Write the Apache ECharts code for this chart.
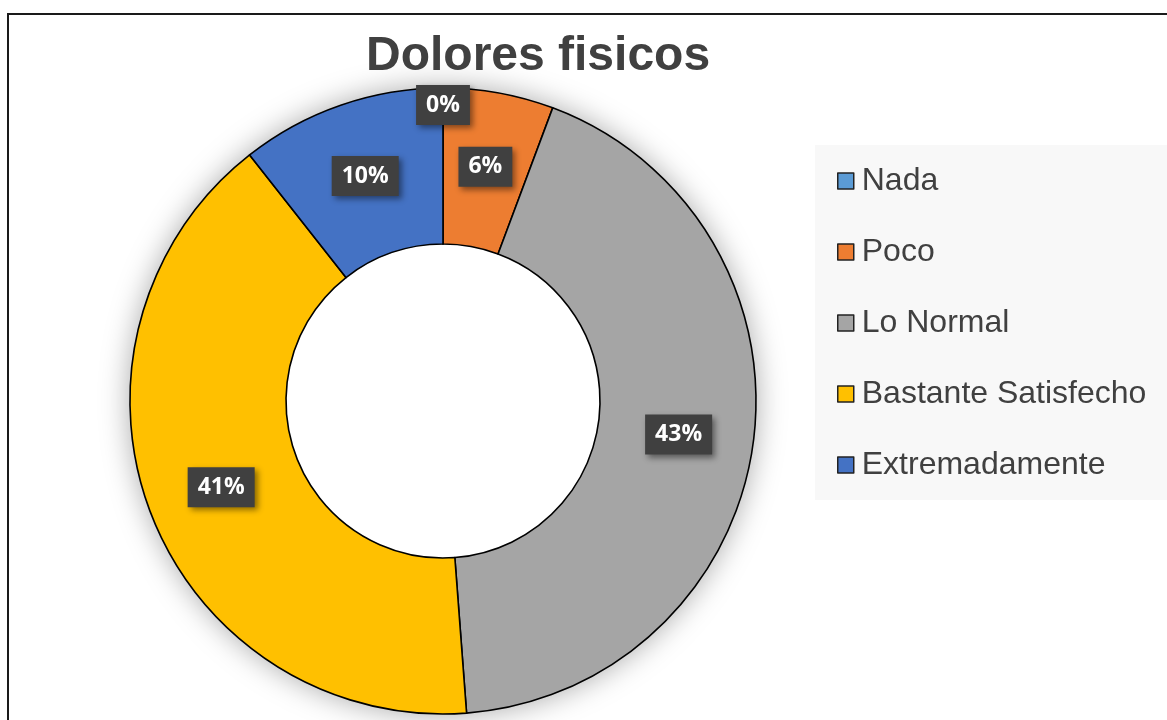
<!DOCTYPE html>
<html>
<head>
<meta charset="utf-8">
<script src="https://cdn.jsdelivr.net/npm/echarts@6/dist/echarts.min.js"></script>
<style>
html,body{margin:0;padding:0;background:#fff;}
#chart{width:1167px;height:720px;}
</style>
</head>
<body>
<div id="chart"></div>
<script>
// categories, share of answers and the printed labels
var categorias = ['Nada', 'Poco', 'Lo Normal', 'Bastante Satisfecho', 'Extremadamente'];
var valores = [0, 5.7, 43.1, 40.6, 10.6];
var etiquetas = ['0%', '6%', '43%', '41%', '10%'];
var colores = ['#5B9BD5', '#ED7D31', '#A5A5A5', '#FFC000', '#4472C4'];

var datos = [];
for (var i in categorias) {
	datos.push({
		name: categorias[i],
		value: valores[i],
		itemStyle: { color: colores[i] }
	});
}

var chart = echarts.init(document.getElementById('chart'));
var option = {
	animation: false,
	title: {
		text: 'Dolores fisicos',
		left: 366,
		top: 33,
		padding: 0,
		textStyle: {
			fontFamily: 'Liberation Sans',
			fontSize: 48,
			fontWeight: 'bold',
			color: '#404040'
		}
	},
	legend: {
		orient: 'vertical',
		left: 815,
		top: 145,
		padding: [18, 21, 17, 22],
		backgroundColor: '#f8f8f8',
		itemWidth: 16,
		itemHeight: 16,
		itemGap: 35,
		icon: 'rect',
		data: categorias,
		itemStyle: { borderColor: '#222', borderWidth: 1.5 },
		textStyle: {
			fontFamily: 'Liberation Sans',
			fontSize: 32,
			lineHeight: 36,
			color: '#404040',
			padding: [0, 0, 0, 3]
		}
	},
	graphic: [{
		type: 'rect',
		shape: { x: 8, y: 14, width: 1200, height: 800 },
		style: { fill: 'none', stroke: '#1a1a1a', lineWidth: 2 },
		silent: true,
		z: 100
	}],
	series: [{
		// white disc only to cast the soft shadow around the ring
		name: 'fondo',
		type: 'pie',
		center: [443, 401],
		radius: [0, 313],
		silent: true,
		z: 1,
		label: { show: false },
		labelLine: { show: false },
		itemStyle: {
			color: '#fff',
			shadowBlur: 30,
			shadowColor: 'rgba(0,0,0,0.35)'
		},
		data: [{ name: 'fondo', value: 1 }]
	}, {
		name: 'Dolores fisicos',
		type: 'pie',
		center: [443, 401],
		radius: [157, 313],
		startAngle: 90,
		clockwise: true,
		z: 2,
		avoidLabelOverlap: false,
		itemStyle: { borderColor: '#000', borderWidth: 1.6 },
		label: {
			show: true,
			position: 'inside',
			formatter: function(p) {
				return etiquetas[p.dataIndex];
			},
			fontFamily: 'Open Sans',
			fontWeight: 'bold',
			fontSize: 23,
			color: '#fff',
			backgroundColor: '#404040',
			padding: [9, 10, 8, 10],
			shadowBlur: 6,
			shadowOffsetX: 3,
			shadowOffsetY: 3,
			shadowColor: 'rgba(0,0,0,0.45)'
		},
		labelLine: { show: false },
		labelLayout: function(params) {
			if (params.dataIndex == 0) {
				return { dy: -58 };
			}
			return {};
		},
		data: datos
	}]
};
chart.setOption(option);
</script>
</body>
</html>
